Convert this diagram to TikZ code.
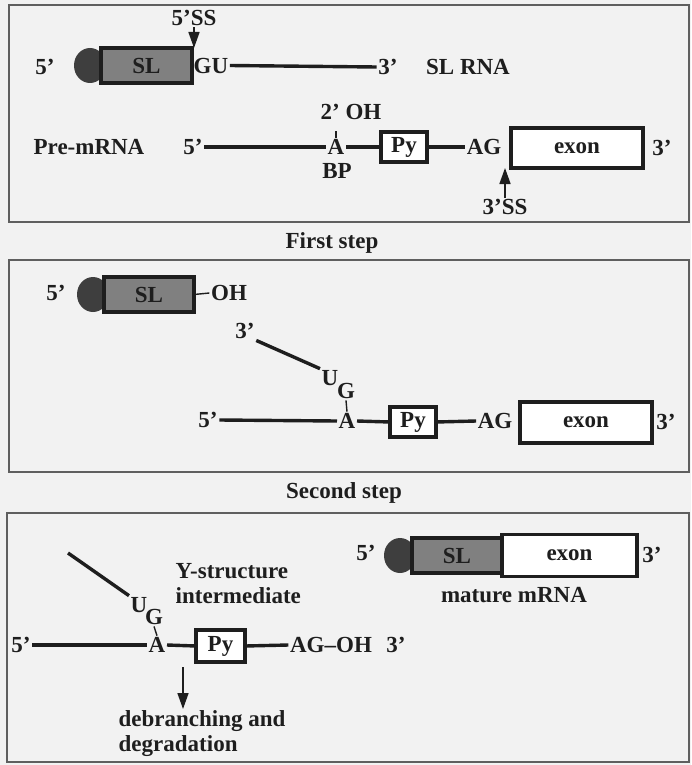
\documentclass[tikz,border=0pt]{standalone}
\usepackage{fontspec}
\setmainfont{Liberation Serif}
\definecolor{capgray}{RGB}{62,62,62}
\definecolor{slgray}{RGB}{128,128,128}
\definecolor{framegray}{RGB}{95,95,95}
\definecolor{paper}{RGB}{242,242,242}
\definecolor{ink}{RGB}{30,30,30}
\usetikzlibrary{arrows.meta,positioning,shapes.geometric}
\tikzset{
  lbl/.style={font=\fontsize{23}{25}\selectfont\bfseries, text=ink, inner sep=1.5pt},
  strand/.style={ink, line width=3.4pt},
  link/.style={ink, line width=1.4pt},
  rnabox/.style={lbl, draw=ink, line width=3.2pt, fill=white, inner sep=0pt, outer sep=0pt},
  slbox/.style={rnabox, fill=slgray},
  capnode/.style={ellipse, fill=capgray, minimum width=32pt, minimum height=35pt, inner sep=0pt},
  panel/.style={draw=framegray, line width=2.2pt},
  ssarrow/.style={ink, line width=1.6pt, -{Triangle[length=16pt,width=11pt]}}
}

\begin{document}
\begin{tikzpicture}[x=1pt,y=-1pt]
\fill[paper] (0,0) rectangle (691,765);
\useasboundingbox (0,0) rectangle (691,765);

% first step
\draw[panel] (9,5) rectangle (689,222);
\node[lbl] (ss5) at (194,18) {5'SS};
\node[lbl] (sl5) at (45,67) {5'};
\node[capnode] (cap1) at (90,65.5) {};
\node[slbox, anchor=west, minimum width=91pt, minimum height=35pt] (sl1) at (101,65.5) {SL};
\node[lbl, right=0pt of sl1] (gu) {GU};
\node[lbl] (sl3) at (388,67) {3'};
\node[lbl] (slrna) at (468,67) {SL RNA};
\draw[strand] (gu.east) -- (sl3.west);
\draw[ssarrow] (ss5.south) -- (ss5.south |- sl1.north);

\node[lbl] (pre) at (89,147) {Pre-mRNA};
\node[lbl] (pre5) at (193,147) {5'};
\node[lbl] (bpA) at (336,147) {A};
\node[lbl] (oh2) at (351,112) {2' OH};
\node[lbl] (bp) at (337,171) {BP};
\node[rnabox, minimum width=46pt, minimum height=30pt] (py1) at (404,147) {Py};
\node[lbl] (ag1) at (484,147) {AG};
\node[rnabox, anchor=west, minimum width=132pt, minimum height=40pt] (ex1) at (511,148) {exon};
\node[lbl] (pre3) at (662,148) {3'};
\draw[strand] (pre5.east) -- (bpA.west);
\draw[strand] (bpA.east) -- (py1.west);
\draw[strand] (py1.east) -- (ag1.west);
\draw[link] (bpA.north) -- ++(0,-7);
\node[lbl] (ss3) at (505,207) {3'SS};
\draw[ssarrow] (ss3.north) -- (ss3.north |- ex1.south);

\node[lbl] (first) at (332,243) {First step};

% second step
\draw[panel] (9,260) rectangle (689,472);
\node[lbl] (oh5) at (56,293) {5'};
\node[capnode] (cap2) at (93,294.5) {};
\node[slbox, anchor=west, minimum width=90pt, minimum height=35pt] (sl2) at (104,294.5) {SL};
\node[lbl] (oh1) at (229,293) {OH};
\draw[link] (sl2.east) -- (oh1.west);
\node[lbl] (t3) at (245,331) {3'};
\node[lbl] (u2) at (330,378) {U};
\node[lbl] (g2) at (346,391) {G};
\draw[strand] (t3.south east) -- (u2.north west);
\node[lbl] (ln5) at (208,420) {5'};
\node[lbl] (a2) at (347,421) {A};
\draw[link] (a2.north) -- (g2.south);
\node[rnabox, minimum width=46pt, minimum height=30pt] (py2) at (413,422) {Py};
\node[lbl] (ag2) at (495,421) {AG};
\node[rnabox, anchor=west, minimum width=132pt, minimum height=41pt] (ex2) at (520,422.5) {exon};
\node[lbl] (ln3) at (666,422) {3'};
\draw[strand] (ln5.east) -- (a2.west);
\draw[strand] (a2.east) -- (py2.west);
\draw[strand] (py2.east) -- (ag2.west);

\node[lbl] (second) at (344,493) {Second step};

% products
\draw[panel] (7,513) rectangle (689,762);
\coordinate (tail3) at (68,553);
\node[lbl] (u3) at (139,605) {U};
\node[lbl] (g3) at (154,617) {G};
\draw[strand] (tail3) -- (u3.north west);
\node[lbl, align=left, anchor=north west] (ystr) at (174,562) {Y-structure\\intermediate};
\node[lbl] (y5) at (21,645) {5'};
\node[lbl] (a3) at (157,645) {A};
\draw[link] (a3.north) -- (g3.south);
\node[rnabox, minimum width=49pt, minimum height=32pt] (py3) at (220.5,646) {Py};
\node[lbl] (ag3) at (331,645) {AG--OH};
\node[lbl] (y3) at (396,645) {3'};
\draw[strand] (y5.east) -- (a3.west);
\draw[strand] (a3.east) -- (py3.west);
\draw[strand] (py3.east) -- (ag3.west);
\coordinate (dbr) at (183,667);
\node[lbl, align=left, anchor=north west] (deg) at (117,709) {debranching and\\degradation};
\draw[ssarrow] (dbr) -- (dbr |- deg.north);

\node[lbl] (m5) at (366,553) {5'};
\node[capnode] (cap3) at (400,555.5) {};
\node[slbox, anchor=west, minimum width=90pt, minimum height=35pt] (sl3box) at (412,555.5) {SL};
\node[rnabox, right=0pt of sl3box, minimum width=135pt, minimum height=42pt] (ex3) {exon};
\node[lbl] (m3) at (652,555) {3'};
\node[lbl] (mat) at (514,595) {mature mRNA};
\end{tikzpicture}
\end{document}
